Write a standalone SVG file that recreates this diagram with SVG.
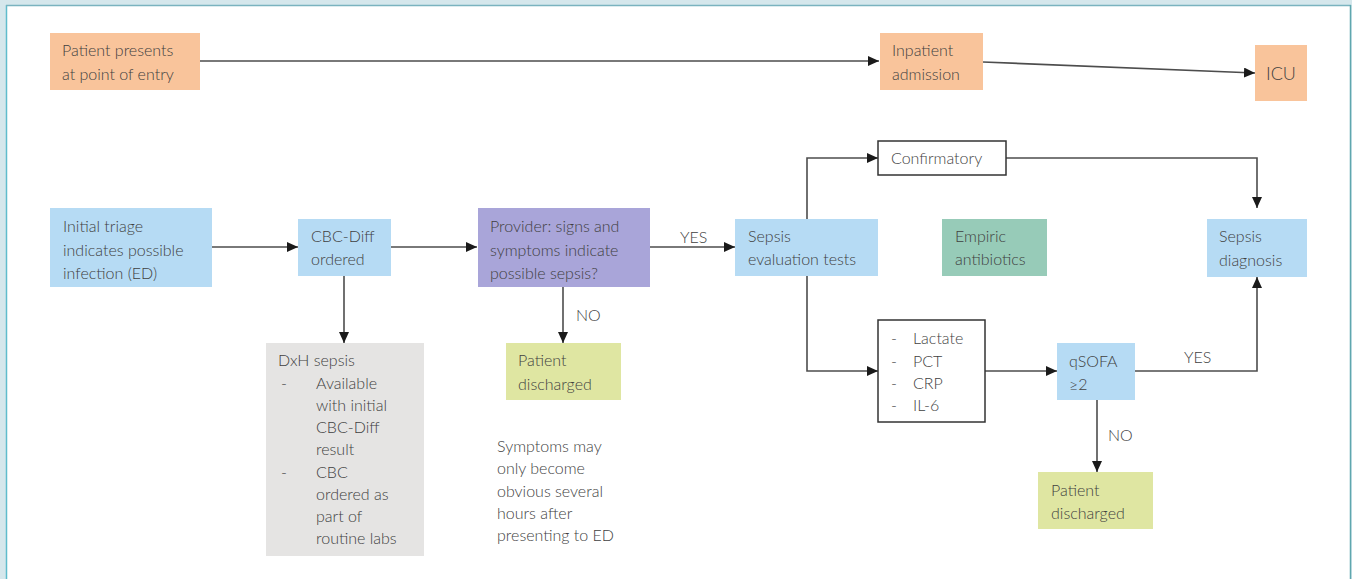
<svg xmlns="http://www.w3.org/2000/svg" width="1352" height="579" viewBox="0 0 1352 579">
<style>
text{font-family:Lato,"Open Sans","Liberation Sans",sans-serif;font-size:16px;font-weight:300;fill:#3f3f3f}
.peach{fill:#f9c49b}
.blue{fill:#b6dbf4}
.purple{fill:#a9a5d9}
.teal{fill:#97cbb8}
.lime{fill:#dfe6a2}
.grey{fill:#e5e4e3}
.wbox{fill:#fff;stroke:#333;stroke-width:1.5}
.conn{fill:none;stroke:#4d4d4d;stroke-width:1.6}
</style>
<defs>
<marker id="ah" markerUnits="userSpaceOnUse" markerWidth="12" markerHeight="10" refX="11" refY="5" orient="auto">
<path d="M0,0 L11,5 L0,10 z" fill="#1a1a1a"/>
</marker>
</defs>
<rect x="0" y="0" width="1352" height="579" fill="#d5e7ec"/>
<rect x="7" y="6" width="1343" height="573" fill="#fff"/>
<line x1="6.5" y1="5" x2="6.5" y2="579" stroke="#5fbccc" stroke-width="1.5"/>
<line x1="6" y1="5.5" x2="1351" y2="5.5" stroke="#7ab3bf" stroke-width="1.5"/>
<line x1="1350.5" y1="5" x2="1350.5" y2="579" stroke="#5fa7ae" stroke-width="1.5"/>

<g id="connectors">
<path class="conn" d="M200,61 H879" marker-end="url(#ah)"/>
<path class="conn" d="M983,62 L1255,73" marker-end="url(#ah)"/>
<path class="conn" d="M212,247 H298" marker-end="url(#ah)"/>
<path class="conn" d="M391,247 H477" marker-end="url(#ah)"/>
<path class="conn" d="M650,247 H735" marker-end="url(#ah)"/>
<path class="conn" d="M807,219 V158 H878" marker-end="url(#ah)"/>
<path class="conn" d="M1006,158 H1257 V208" marker-end="url(#ah)"/>
<path class="conn" d="M807,276 V371 H878" marker-end="url(#ah)"/>
<path class="conn" d="M985,371 H1057" marker-end="url(#ah)"/>
<path class="conn" d="M1135,371 H1257 V277" marker-end="url(#ah)"/>
<path class="conn" d="M1097,400 V472" marker-end="url(#ah)"/>
<path class="conn" d="M344,276 V343" marker-end="url(#ah)"/>
<path class="conn" d="M563,287 V343" marker-end="url(#ah)"/>
<text x="680" y="243">YES</text>
<text x="576" y="321">NO</text>
<text x="1184" y="363">YES</text>
<text x="1108" y="441">NO</text>
</g>

<g id="n-entry">
<rect class="peach" x="50" y="33" width="150" height="57"/>
<text x="62" y="56">Patient presents</text>
<text x="62" y="80">at point of entry</text>
</g>
<g id="n-inpatient">
<rect class="peach" x="880" y="33" width="103" height="57"/>
<text x="892" y="56">Inpatient</text>
<text x="892" y="80">admission</text>
</g>
<g id="n-icu">
<rect class="peach" x="1255" y="45" width="52" height="56"/>
<text x="1281" y="80" text-anchor="middle" style="font-size:18px">ICU</text>
</g>
<g id="n-triage">
<rect class="blue" x="50" y="208" width="162" height="79"/>
<text x="63" y="232">Initial triage</text>
<text x="63" y="256">indicates possible</text>
<text x="63" y="279">infection (ED)</text>
</g>
<g id="n-cbc">
<rect class="blue" x="298" y="219" width="93" height="57"/>
<text x="311" y="242">CBC-Diff</text>
<text x="311" y="265">ordered</text>
</g>
<g id="n-provider">
<rect class="purple" x="478" y="208" width="172" height="79"/>
<text x="490" y="232">Provider: signs and</text>
<text x="490" y="256">symptoms indicate</text>
<text x="490" y="279">possible sepsis?</text>
</g>
<g id="n-eval">
<rect class="blue" x="735" y="219" width="143" height="57"/>
<text x="748" y="242">Sepsis</text>
<text x="748" y="265">evaluation tests</text>
</g>
<g id="n-confirm">
<rect class="wbox" x="878" y="141" width="128" height="34"/>
<text x="891" y="164">Confirmatory</text>
</g>
<g id="n-empiric">
<rect class="teal" x="942" y="219" width="105" height="57"/>
<text x="955" y="242">Empiric</text>
<text x="955" y="265">antibiotics</text>
</g>
<g id="n-diagnosis">
<rect class="blue" x="1207" y="219" width="100" height="58"/>
<text x="1219" y="242">Sepsis</text>
<text x="1219" y="266">diagnosis</text>
</g>
<g id="n-labs">
<rect class="wbox" x="878" y="320" width="107" height="102"/>
<text x="891" y="344">-</text><text x="913" y="344">Lactate</text>
<text x="891" y="367">-</text><text x="913" y="367">PCT</text>
<text x="891" y="389">-</text><text x="913" y="389">CRP</text>
<text x="891" y="411">-</text><text x="913" y="411">IL-6</text>
</g>
<g id="n-qsofa">
<rect class="blue" x="1057" y="343" width="78" height="57"/>
<text x="1069" y="367">qSOFA</text>
<text x="1069" y="390">≥2</text>
</g>
<g id="n-discharged2">
<rect class="lime" x="1038" y="472" width="115" height="57"/>
<text x="1051" y="496">Patient</text>
<text x="1051" y="519">discharged</text>
</g>
<g id="n-dxh">
<rect class="grey" x="266" y="343" width="158" height="213"/>
<text x="278" y="366">DxH sepsis</text>
<text x="281" y="389">-</text><text x="316" y="389">Available</text>
<text x="316" y="411">with initial</text>
<text x="316" y="433">CBC-Diff</text>
<text x="316" y="455">result</text>
<text x="281" y="478">-</text><text x="316" y="478">CBC</text>
<text x="316" y="500">ordered as</text>
<text x="316" y="522">part of</text>
<text x="316" y="544">routine labs</text>
</g>
<g id="n-discharged1">
<rect class="lime" x="506" y="343" width="115" height="57"/>
<text x="518" y="366">Patient</text>
<text x="518" y="390">discharged</text>
</g>
<g id="n-note">
<text x="497" y="452">Symptoms may</text>
<text x="497" y="474">only become</text>
<text x="497" y="497">obvious several</text>
<text x="497" y="519">hours after</text>
<text x="497" y="541">presenting to ED</text>
</g>
</svg>
